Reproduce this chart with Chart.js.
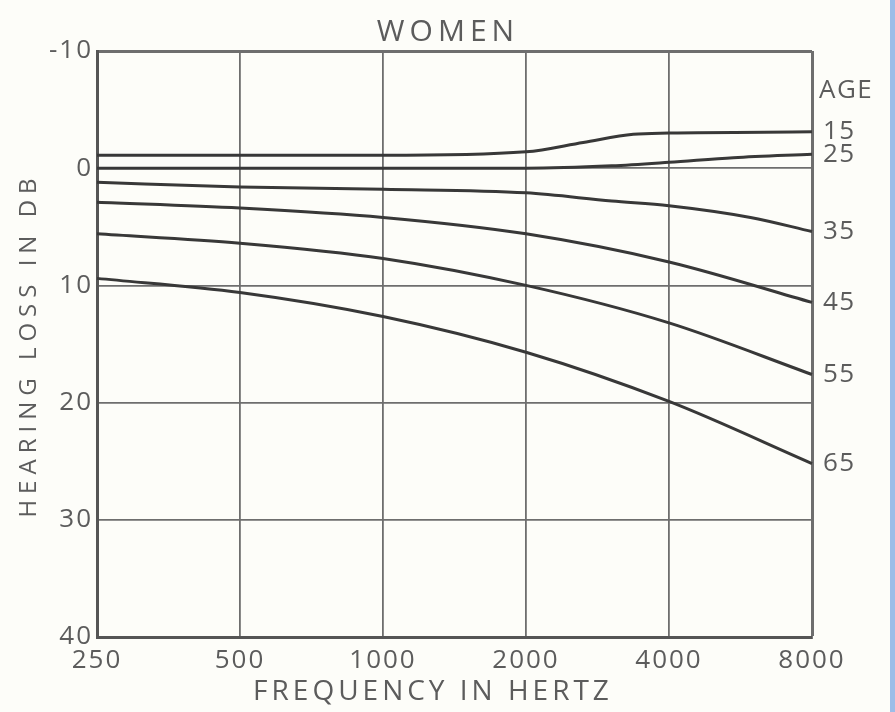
<!DOCTYPE html>
<html><head><meta charset="utf-8">
<script src="https://cdn.jsdelivr.net/npm/chart.js@4.4.1/dist/chart.umd.min.js"></script>
<style>
html,body{margin:0;padding:0;background:#fdfdf9;overflow:hidden}
canvas{display:block}
</style></head>
<body>
<canvas id="c" width="895" height="712"></canvas>
<script>
// ---- data ----
const chartTitle = 'WOMEN';
const xTitle = 'FREQUENCY IN HERTZ';
const yTitle = 'HEARING LOSS IN DB';
const legendTitle = 'AGE';
const freqLabels = ['250', '500', '1000', '2000', '4000', '8000'];   // octave positions 0..5
const yTickValues = [-10, 0, 10, 20, 30, 40];
const ageLabels = ['15', '25', '35', '45', '55', '65'];

const age15X = [0, 1, 2, 3, 3.4, 3.75, 4, 5];
const age15Y = [-1.1, -1.1, -1.1, -1.4, -2.2, -2.9, -3.0, -3.1];
const age25X = [0, 1, 2, 3, 3.6, 4, 4.45, 5];
const age25Y = [0, 0, 0, 0, -0.2, -0.5, -0.9, -1.2];
const age35X = [0, 1, 2, 3, 3.6, 4, 4.57, 5];
const age35Y = [1.2, 1.6, 1.8, 2.1, 2.8, 3.2, 4.2, 5.4];
const age45X = [0, 1, 2, 3, 4, 5];
const age45Y = [2.9, 3.4, 4.2, 5.6, 8.0, 11.45];
const age55X = [0, 1, 2, 3, 4, 5];
const age55Y = [5.6, 6.4, 7.7, 10.0, 13.2, 17.6];
const age65X = [0, 1, 2, 3, 4, 5];
const age65Y = [9.4, 10.6, 12.65, 15.7, 19.9, 25.2];

const seriesX = [age15X, age25X, age35X, age45X, age55X, age65X];
const seriesY = [age15Y, age25Y, age35Y, age45Y, age55Y, age65Y];

// ---- style ----
const textColor = '#5c5c5c';
const lineColor = '#383838';
const gridColor = '#6e6e6e';
const fontFamily = '"Open Sans", "Liberation Sans", sans-serif';
const fontWeight = '400';

const datasets = ageLabels.map((lab, i) => ({
  label: lab,
  data: seriesX[i].map((x, j) => ({ x: x, y: seriesY[i][j] })),
  borderColor: lineColor,
  borderWidth: 3,
  pointRadius: 0,
  fill: false,
  cubicInterpolationMode: 'monotone',
  clip: false
}));

const decorPlugin = {
  id: 'decor',
  beforeDraw(chart) {
    const ctx = chart.ctx;
    ctx.save();
    ctx.fillStyle = '#fdfdf9';
    ctx.fillRect(0, 0, chart.width, chart.height);
    ctx.fillStyle = '#9cbde8';
    ctx.fillRect(890, 0, chart.width - 890, chart.height);
    ctx.restore();
    ctx.letterSpacing = '2px';
  },
  afterDraw(chart) {
    const ctx = chart.ctx;
    const area = chart.chartArea;
    const ys = chart.scales.y;
    ctx.save();
    ctx.fillStyle = textColor;
    ctx.textBaseline = 'middle';
    // age labels at line ends
    ctx.font = fontWeight + ' 26px ' + fontFamily;
    ctx.letterSpacing = '1.5px';
    ctx.textAlign = 'left';
    chart.data.datasets.forEach((ds, i) => {
      const meta = chart.getDatasetMeta(i);
      const pt = meta.data[meta.data.length - 1];
      ctx.fillText(ds.label, area.right + 11, pt.y);
    });
    ctx.fillText(legendTitle, area.right + 7, ys.getPixelForValue(-6.6));
    // title
    ctx.textAlign = 'center';
    ctx.font = fontWeight + ' 30px ' + fontFamily;
    ctx.letterSpacing = '5px';
    ctx.fillText(chartTitle, 448, 32);
    // x title
    ctx.font = fontWeight + ' 28px ' + fontFamily;
    ctx.letterSpacing = '4px';
    ctx.fillText(xTitle, 433, 692);
    // y title
    ctx.translate(29, 348);
    ctx.rotate(-Math.PI / 2);
    ctx.font = fontWeight + ' 24px ' + fontFamily;
    ctx.letterSpacing = '6px';
    ctx.fillText(yTitle, 3, 0);
    ctx.restore();
  }
};

new Chart(document.getElementById('c'), {
  type: 'line',
  data: { datasets: datasets },
  options: {
    responsive: false,
    animation: false,
    devicePixelRatio: 1,
    layout: { padding: { left: 0, top: 51, right: 83, bottom: 0 } },
    plugins: { legend: { display: false }, title: { display: false }, tooltip: { enabled: false } },
    scales: {
      x: {
        type: 'linear',
        min: 0, max: freqLabels.length - 1,
        afterFit(s) { s.height = 75; },
        afterBuildTicks(s) { s.ticks = freqLabels.map((_, i) => ({ value: i })); },
        ticks: {
          callback: (v) => freqLabels[v],
          color: textColor,
          font: { family: fontFamily, size: 26, weight: fontWeight },
          padding: 8,
          maxRotation: 0, autoSkip: false
        },
        grid: {
          color: gridColor,
          lineWidth: (c) => (c.index === freqLabels.length - 1 ? 3 : 1.8),
          drawTicks: false
        },
        border: { display: true, color: '#555', width: 3 }
      },
      y: {
        type: 'linear',
        reverse: true,
        min: yTickValues[0], max: yTickValues[yTickValues.length - 1],
        afterFit(s) { s.width = 97; },
        afterBuildTicks(s) { s.ticks = yTickValues.map(v => ({ value: v })); },
        ticks: {
          callback: (v) => String(v),
          color: textColor,
          font: { family: fontFamily, size: 26, weight: fontWeight },
          padding: 4
        },
        grid: {
          color: gridColor,
          lineWidth: (c) => (c.tick && c.tick.value === yTickValues[0] ? 3 : 1.8),
          drawTicks: false
        },
        border: { display: true, color: '#555', width: 3 }
      }
    }
  },
  plugins: [decorPlugin]
});
</script>
</body></html>
